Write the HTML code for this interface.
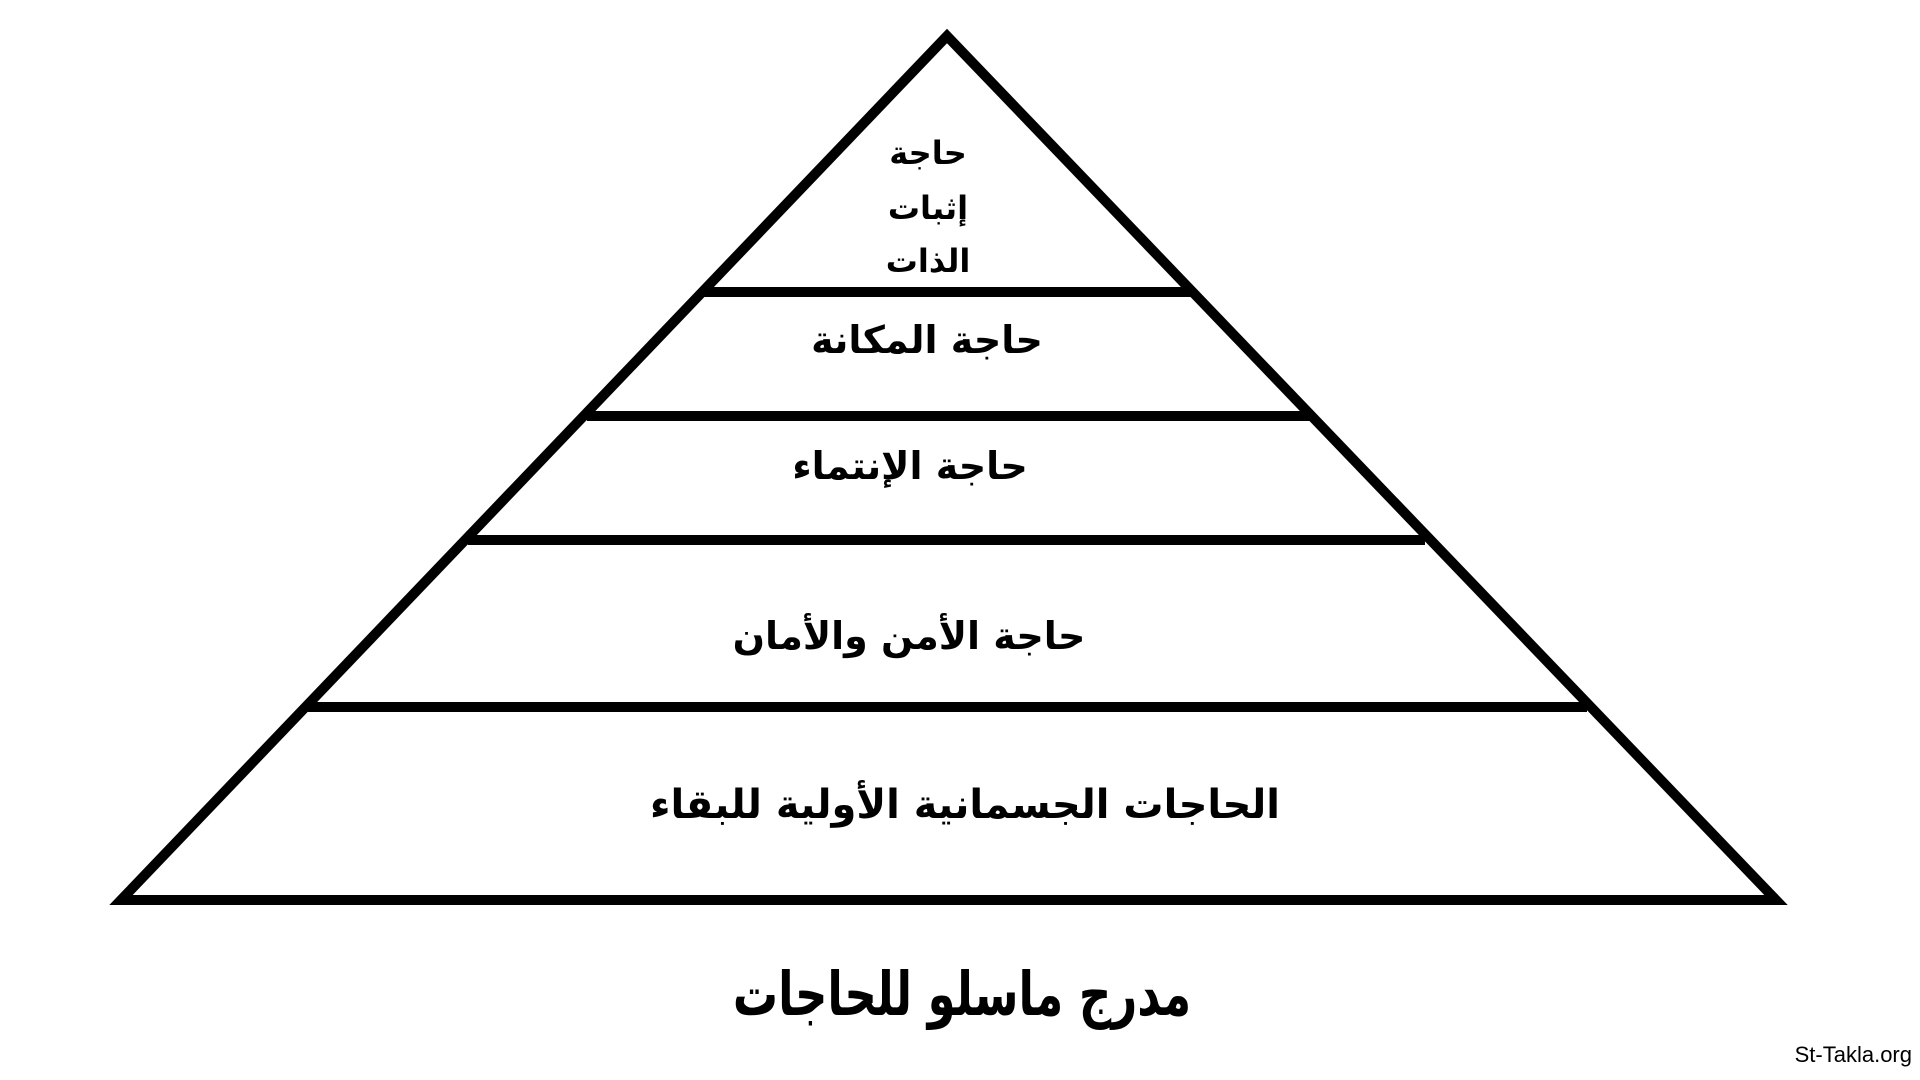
<!DOCTYPE html>
<html><head><meta charset="utf-8"><style>
body{margin:0;width:1920px;height:1080px;background:#fff;overflow:hidden;position:relative;font-family:"DejaVu Sans",sans-serif}
.t{position:absolute;transform:translate(-50%,-50%);font-weight:bold;white-space:nowrap;direction:rtl;color:#000}
</style></head><body>
<svg width="1920" height="1080" style="position:absolute;left:0;top:0">
<polygon points="947,36 121,900 1776,900" fill="none" stroke="#000" stroke-width="10" stroke-linejoin="miter"/>
<line x1="703" y1="292" x2="1192" y2="292" stroke="#000" stroke-width="10"/>
<line x1="587" y1="416" x2="1310" y2="416" stroke="#000" stroke-width="10"/>
<line x1="468" y1="540" x2="1425" y2="540" stroke="#000" stroke-width="10"/>
<line x1="308" y1="707" x2="1587" y2="707" stroke="#000" stroke-width="10"/>
</svg>
<div class="t" style="left:928px;top:153px;font-size:32px">حاجة</div>
<div class="t" style="left:928px;top:208px;font-size:32px">إثبات</div>
<div class="t" style="left:928px;top:261px;font-size:32px">الذات</div>
<div class="t" style="left:927px;top:340px;font-size:38px">حاجة المكانة</div>
<div class="t" style="left:910px;top:466px;font-size:38px">حاجة الإنتماء</div>
<div class="t" style="left:909px;top:636px;font-size:38px">حاجة الأمن والأمان</div>
<div class="t" style="left:965px;top:805px;font-size:40px">الحاجات الجسمانية الأولية للبقاء</div>
<div class="t" style="left:962px;top:994px;font-size:45px;transform:translate(-50%,-50%) scaleY(1.35)">مدرج ماسلو للحاجات</div>
<div style="position:absolute;right:8px;top:1042px;font-size:22px;font-family:'Liberation Sans',sans-serif">St-Takla.org</div>
</body></html>
